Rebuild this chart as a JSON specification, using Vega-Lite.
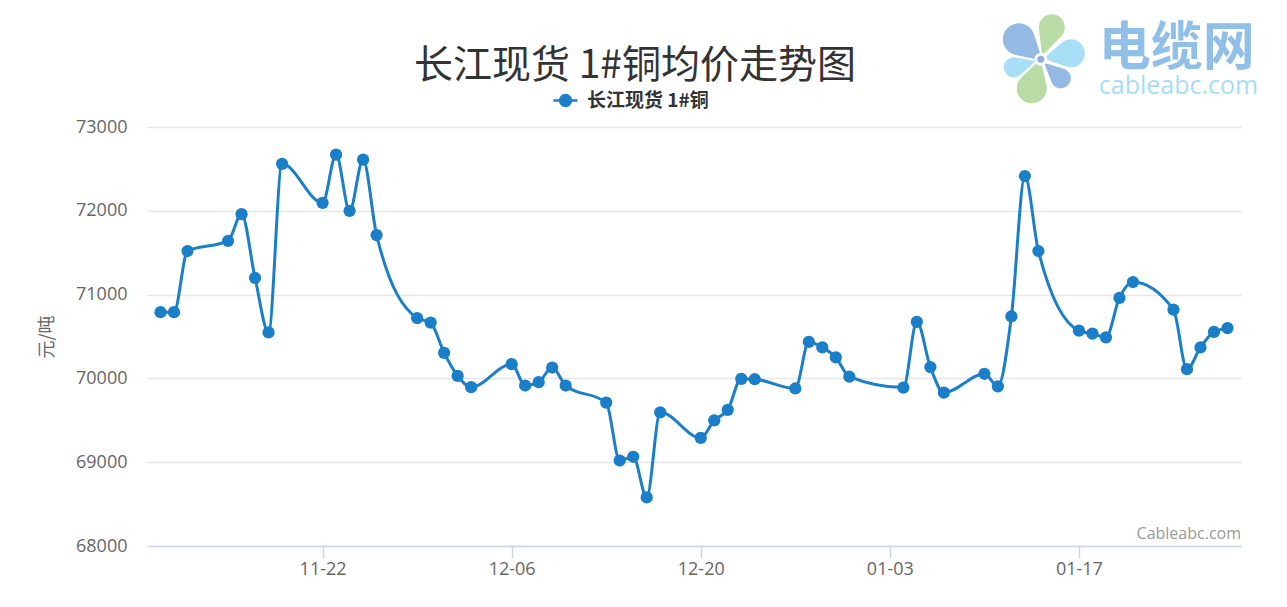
{
  "$schema": "https://vega.github.io/schema/vega-lite/v6.json",
  "width": 1094,
  "height": 419,
  "autosize": {"type": "none"},
  "padding": {"left": 147, "top": 127, "right": 46, "bottom": 61},
  "background": "white",
  "title": {
    "text": "长江现货 1#铜均价走势图",
    "font": "Noto Sans CJK SC",
    "fontSize": 39,
    "fontWeight": "normal",
    "color": "#333333",
    "anchor": "middle",
    "dx": -59,
    "dy": 82,
    "offset": 10
  },
  "config": {
    "view": {"stroke": null},
    "axis": {"labelFont": "Open Sans", "titleFont": "Noto Sans CJK SC"}
  },
  "layer": [
    {
      "data": {
        "values": [
          {"date": "2021-11-10", "price": 70790, "series": "长江现货 1#铜"},
          {"date": "2021-11-11", "price": 70790, "series": "长江现货 1#铜"},
          {"date": "2021-11-12", "price": 71520, "series": "长江现货 1#铜"},
          {"date": "2021-11-15", "price": 71640, "series": "长江现货 1#铜"},
          {"date": "2021-11-16", "price": 71960, "series": "长江现货 1#铜"},
          {"date": "2021-11-17", "price": 71200, "series": "长江现货 1#铜"},
          {"date": "2021-11-18", "price": 70550, "series": "长江现货 1#铜"},
          {"date": "2021-11-19", "price": 72560, "series": "长江现货 1#铜"},
          {"date": "2021-11-22", "price": 72095, "series": "长江现货 1#铜"},
          {"date": "2021-11-23", "price": 72670, "series": "长江现货 1#铜"},
          {"date": "2021-11-24", "price": 72000, "series": "长江现货 1#铜"},
          {"date": "2021-11-25", "price": 72610, "series": "长江现货 1#铜"},
          {"date": "2021-11-26", "price": 71710, "series": "长江现货 1#铜"},
          {"date": "2021-11-29", "price": 70720, "series": "长江现货 1#铜"},
          {"date": "2021-11-30", "price": 70665, "series": "长江现货 1#铜"},
          {"date": "2021-12-01", "price": 70305, "series": "长江现货 1#铜"},
          {"date": "2021-12-02", "price": 70030, "series": "长江现货 1#铜"},
          {"date": "2021-12-03", "price": 69895, "series": "长江现货 1#铜"},
          {"date": "2021-12-06", "price": 70170, "series": "长江现货 1#铜"},
          {"date": "2021-12-07", "price": 69915, "series": "长江现货 1#铜"},
          {"date": "2021-12-08", "price": 69955, "series": "长江现货 1#铜"},
          {"date": "2021-12-09", "price": 70130, "series": "长江现货 1#铜"},
          {"date": "2021-12-10", "price": 69915, "series": "长江现货 1#铜"},
          {"date": "2021-12-13", "price": 69710, "series": "长江现货 1#铜"},
          {"date": "2021-12-14", "price": 69020, "series": "长江现货 1#铜"},
          {"date": "2021-12-15", "price": 69065, "series": "长江现货 1#铜"},
          {"date": "2021-12-16", "price": 68580, "series": "长江现货 1#铜"},
          {"date": "2021-12-17", "price": 69595, "series": "长江现货 1#铜"},
          {"date": "2021-12-20", "price": 69290, "series": "长江现货 1#铜"},
          {"date": "2021-12-21", "price": 69500, "series": "长江现货 1#铜"},
          {"date": "2021-12-22", "price": 69625, "series": "长江现货 1#铜"},
          {"date": "2021-12-23", "price": 69995, "series": "长江现货 1#铜"},
          {"date": "2021-12-24", "price": 69990, "series": "长江现货 1#铜"},
          {"date": "2021-12-27", "price": 69880, "series": "长江现货 1#铜"},
          {"date": "2021-12-28", "price": 70435, "series": "长江现货 1#铜"},
          {"date": "2021-12-29", "price": 70370, "series": "长江现货 1#铜"},
          {"date": "2021-12-30", "price": 70250, "series": "长江现货 1#铜"},
          {"date": "2021-12-31", "price": 70020, "series": "长江现货 1#铜"},
          {"date": "2022-01-04", "price": 69890, "series": "长江现货 1#铜"},
          {"date": "2022-01-05", "price": 70675, "series": "长江现货 1#铜"},
          {"date": "2022-01-06", "price": 70135, "series": "长江现货 1#铜"},
          {"date": "2022-01-07", "price": 69830, "series": "长江现货 1#铜"},
          {"date": "2022-01-10", "price": 70055, "series": "长江现货 1#铜"},
          {"date": "2022-01-11", "price": 69905, "series": "长江现货 1#铜"},
          {"date": "2022-01-12", "price": 70740, "series": "长江现货 1#铜"},
          {"date": "2022-01-13", "price": 72415, "series": "长江现货 1#铜"},
          {"date": "2022-01-14", "price": 71520, "series": "长江现货 1#铜"},
          {"date": "2022-01-17", "price": 70570, "series": "长江现货 1#铜"},
          {"date": "2022-01-18", "price": 70535, "series": "长江现货 1#铜"},
          {"date": "2022-01-19", "price": 70490, "series": "长江现货 1#铜"},
          {"date": "2022-01-20", "price": 70960, "series": "长江现货 1#铜"},
          {"date": "2022-01-21", "price": 71150, "series": "长江现货 1#铜"},
          {"date": "2022-01-24", "price": 70820, "series": "长江现货 1#铜"},
          {"date": "2022-01-25", "price": 70110, "series": "长江现货 1#铜"},
          {"date": "2022-01-26", "price": 70370, "series": "长江现货 1#铜"},
          {"date": "2022-01-27", "price": 70555, "series": "长江现货 1#铜"},
          {"date": "2022-01-28", "price": 70600, "series": "长江现货 1#铜"}
        ]
      },
      "mark": {
        "type": "line",
        "interpolate": "monotone",
        "strokeWidth": 3,
        "point": {"filled": true, "size": 150, "opacity": 1}
      },
      "encoding": {
        "x": {
          "field": "date",
          "type": "temporal",
          "scale": {
            "type": "utc",
            "domain": [
              {"year": 2021, "month": 11, "date": 9, "utc": true},
              {"year": 2022, "month": 1, "date": 29, "utc": true}
            ]
          },
          "axis": {
            "title": null,
            "values": [
              {"year": 2021, "month": 11, "date": 22, "utc": true},
              {"year": 2021, "month": 12, "date": 6, "utc": true},
              {"year": 2021, "month": 12, "date": 20, "utc": true},
              {"year": 2022, "month": 1, "date": 3, "utc": true},
              {"year": 2022, "month": 1, "date": 17, "utc": true}
            ],
            "format": "%m-%d",
            "grid": false,
            "domainColor": "#ccd6eb",
            "domainWidth": 1.5,
            "tickColor": "#ccd6eb",
            "tickWidth": 1.5,
            "tickSize": 12,
            "labelPadding": 2,
            "labelFontSize": 18,
            "labelColor": "#666666"
          }
        },
        "y": {
          "field": "price",
          "type": "quantitative",
          "scale": {"domain": [68000, 73000], "nice": false, "zero": false},
          "axis": {
            "title": "元/吨",
            "values": [68000, 69000, 70000, 71000, 72000, 73000],
            "format": "d",
            "domain": false,
            "ticks": false,
            "tickSize": 0,
            "labelPadding": 20,
            "labelFontSize": 18,
            "labelColor": "#666666",
            "gridColor": "#e6e6e6",
            "gridWidth": 1.5,
            "titleFontSize": 18,
            "titleFontWeight": "normal",
            "titleColor": "#666666",
            "titlePadding": 19
          }
        },
        "color": {
          "field": "series",
          "type": "nominal",
          "scale": {"range": ["#1a7fc8"]},
          "legend": {
            "title": null,
            "orient": "none",
            "legendX": 405,
            "legendY": -40,
            "padding": 0,
            "labelFont": "Noto Sans CJK SC",
            "labelFontSize": 19,
            "labelFontWeight": "bold",
            "labelColor": "#333333",
            "labelOffset": 8,
            "symbolSize": 576,
            "symbolType": "M-1,0H1M-0.45,0A0.45,0.45 0 1,1 0.45,0A0.45,0.45 0 1,1 -0.45,0Z",
            "symbolStrokeWidth": 2.5,
            "encode": {
              "symbols": {
                "update": {
                  "fill": {"value": "#1a7fc8"},
                  "stroke": {"value": "#1a7fc8"},
                  "strokeWidth": {"value": 2.5},
                  "opacity": {"value": 1},
                  "shape": {"value": "M-1,0H1M-0.45,0A0.45,0.45 0 1,1 0.45,0A0.45,0.45 0 1,1 -0.45,0Z"},
                  "size": {"value": 576}
                }
              }
            }
          }
        }
      }
    },
    {
      "data": {"values": [{"label": "Cableabc.com"}]},
      "mark": {"type": "text", "align": "right", "baseline": "bottom", "dy": -4, "font": "Open Sans", "fontSize": 16, "color": "#999999"},
      "encoding": {
        "x": {"datum": {"year": 2022, "month": 1, "date": 29, "utc": true}, "type": "temporal"},
        "y": {"datum": 68000, "type": "quantitative"},
        "text": {"field": "label"}
      }
    },
    {
      "data": {"values": [{"t": "2022-01-12T13:12:00Z", "v": 74046}]},
      "mark": {"type": "point", "filled": true, "opacity": 1, "size": 1024, "angle": -48, "color": "#94bae4", "shape": "M0,2L0.866,0.5A1,1 0 1,0 -0.866,0.5Z"},
      "encoding": {"x": {"field": "t", "type": "temporal"}, "y": {"field": "v", "type": "quantitative"}}
    },
    {
      "data": {"values": [{"t": "2022-01-14T23:45:00Z", "v": 74189}]},
      "mark": {"type": "point", "filled": true, "opacity": 1, "size": 676, "angle": 19, "color": "#b8dca3", "shape": "M0,2.3L0.9,0.43A1,1 0 1,0 -0.9,0.43Z"},
      "encoding": {"x": {"field": "t", "type": "temporal"}, "y": {"field": "v", "type": "quantitative"}}
    },
    {
      "data": {"values": [{"t": "2022-01-16T09:36:00Z", "v": 73879}]},
      "mark": {"type": "point", "filled": true, "opacity": 1, "size": 784, "angle": 79, "color": "#a9dff6", "shape": "M0,2L0.866,0.5A1,1 0 1,0 -0.866,0.5Z"},
      "encoding": {"x": {"field": "t", "type": "temporal"}, "y": {"field": "v", "type": "quantitative"}}
    },
    {
      "data": {"values": [{"t": "2022-01-12T04:19:00Z", "v": 73712}]},
      "mark": {"type": "point", "filled": true, "opacity": 1, "size": 400, "angle": -106, "color": "#a9dff6", "shape": "M0,2.3L0.9,0.43A1,1 0 1,0 -0.9,0.43Z"},
      "encoding": {"x": {"field": "t", "type": "temporal"}, "y": {"field": "v", "type": "quantitative"}}
    },
    {
      "data": {"values": [{"t": "2022-01-13T12:14:00Z", "v": 73462}]},
      "mark": {"type": "point", "filled": true, "opacity": 1, "size": 900, "angle": -163, "color": "#b8dca3", "shape": "M0,2L0.866,0.5A1,1 0 1,0 -0.866,0.5Z"},
      "encoding": {"x": {"field": "t", "type": "temporal"}, "y": {"field": "v", "type": "quantitative"}}
    },
    {
      "data": {"values": [{"t": "2022-01-15T15:50:00Z", "v": 73581}]},
      "mark": {"type": "point", "filled": true, "opacity": 1, "size": 400, "angle": 133, "color": "#94bae4", "shape": "M0,2.3L0.9,0.43A1,1 0 1,0 -0.9,0.43Z"},
      "encoding": {"x": {"field": "t", "type": "temporal"}, "y": {"field": "v", "type": "quantitative"}}
    },
    {
      "data": {"values": [{"t": "2022-01-14T04:19:00Z", "v": 73807}]},
      "mark": {"type": "point", "filled": true, "opacity": 1, "size": 100, "color": "#8eaedc", "stroke": "white", "strokeWidth": 3},
      "encoding": {"x": {"field": "t", "type": "temporal"}, "y": {"field": "v", "type": "quantitative"}}
    },
    {
      "data": {"values": [{"label": "电缆网"}]},
      "mark": {"type": "text", "align": "left", "baseline": "alphabetic", "font": "Noto Sans CJK SC", "fontSize": 52, "fontWeight": "bold", "color": "#90bfe8"},
      "encoding": {
        "x": {"datum": {"year": 2022, "month": 1, "date": 18, "hours": 11, "minutes": 17, "utc": true}, "type": "temporal"},
        "y": {"datum": 73740, "type": "quantitative"},
        "text": {"field": "label"}
      }
    },
    {
      "data": {"values": [{"label": "cableabc.com"}]},
      "mark": {"type": "text", "align": "left", "baseline": "alphabetic", "font": "Open Sans", "fontSize": 25, "color": "#a6ddf5"},
      "encoding": {
        "x": {"datum": {"year": 2022, "month": 1, "date": 18, "hours": 11, "minutes": 17, "utc": true}, "type": "temporal"},
        "y": {"datum": 73390, "type": "quantitative"},
        "text": {"field": "label"}
      }
    }
  ]
}
